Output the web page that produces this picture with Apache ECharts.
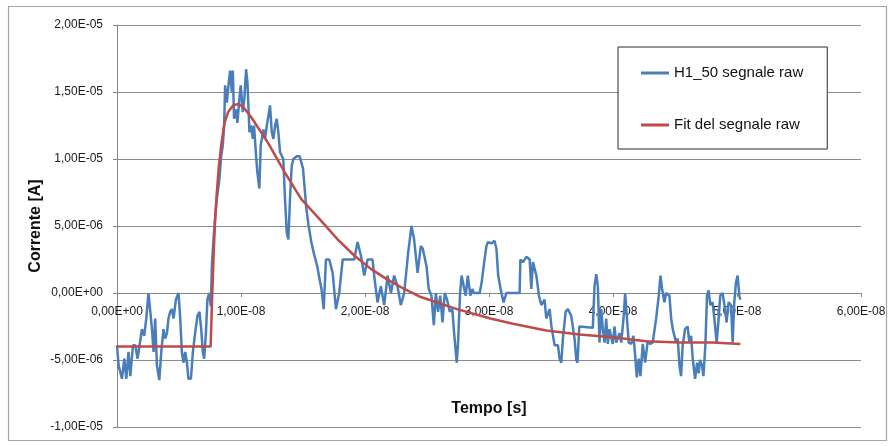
<!DOCTYPE html>
<html>
<head>
<meta charset="utf-8">
<script src="https://cdn.jsdelivr.net/npm/echarts@6/dist/echarts.min.js"></script>
<style>
  html, body { margin: 0; padding: 0; background: #ffffff; }
  #chart { width: 891px; height: 446px; }
</style>
</head>
<body>
<div id="chart"></div>
<script>
// Raw signal H1_50: time in ns, current in µA
const timeNs = [
  0.00,0.13,0.40,0.59,0.75,0.93,1.07,1.29,1.47,1.66,
  1.82,2.01,2.20,2.36,2.54,2.68,2.82,2.95,3.08,3.22,
  3.41,3.57,3.75,3.89,4.03,4.15,4.29,4.43,4.56,4.75,
  4.96,5.10,5.23,5.36,5.50,5.64,5.76,5.96,6.12,6.30,
  6.49,6.65,6.79,6.92,7.03,7.17,7.29,7.43,7.57,7.65,
  7.78,7.91,8.05,8.26,8.40,8.53,8.64,8.72,8.86,8.99,
  9.12,9.26,9.34,9.44,9.61,9.71,9.87,9.98,10.14,10.27,
  10.41,10.52,10.68,10.81,10.95,11.05,11.22,11.32,11.48,11.59,
  11.80,11.94,12.08,12.21,12.34,12.48,12.61,12.75,12.88,13.01,
  13.15,13.41,13.55,13.69,13.82,13.95,14.09,14.22,14.49,14.73,
  15.00,15.27,15.44,15.67,15.89,16.15,16.34,16.49,16.67,16.85,
  17.12,17.39,17.66,17.92,18.20,19.13,19.40,19.67,19.94,20.21,
  20.61,20.74,21.01,21.28,21.55,21.82,22.09,22.35,22.62,22.89,
  23.16,23.48,23.75,23.96,24.24,24.50,24.66,24.96,25.14,25.36,
  25.55,25.71,25.89,26.07,26.25,26.43,26.62,26.84,27.04,27.18,
  27.32,27.40,27.50,27.67,27.79,27.96,28.12,28.29,28.50,28.66,
  28.77,29.25,29.41,29.57,29.79,29.92,30.06,30.22,30.44,30.60,
  30.74,31.00,31.18,31.40,32.47,32.53,32.74,33.01,33.28,33.41,
  33.54,33.82,34.03,34.22,34.48,34.62,34.89,35.02,35.29,35.56,
  35.69,35.83,35.96,36.18,36.36,36.63,36.90,37.04,37.14,37.28,
  38.37,38.51,38.65,38.78,38.91,39.05,39.18,39.32,39.45,39.58,
  39.72,39.98,40.12,40.26,40.52,40.66,40.85,40.98,41.11,41.27,
  41.47,41.65,41.81,41.92,42.08,42.21,42.40,42.59,42.80,42.99,
  43.20,43.48,43.69,43.83,43.96,44.15,44.28,44.55,44.69,44.82,
  45.09,45.22,45.36,45.49,45.62,45.81,46.02,46.16,46.30,46.43,
  46.62,46.78,46.91,47.02,47.18,47.29,47.45,47.58,47.71,47.85,
  48.03,48.17,48.36,48.52,48.65,48.84,49.03,49.16,49.32,49.52,
  49.65,49.78,49.92,50.05,50.19,50.27
];
const currentUA = [
  -3.9,-5.4,-6.4,-4.9,-6.4,-4.4,-6.2,-3.9,-3.9,-4.9,
  -3.9,-2.7,-3.2,-1.9,0.0,0.0,-2.7,-4.4,-1.9,-5.4,
  -6.5,-4.4,-2.7,-3.4,-3.0,-1.9,-1.4,-1.2,-1.9,-0.5,
  0.0,-1.9,-4.4,-5.2,-4.4,-5.2,-6.4,-6.4,-4.4,-3.0,
  -1.7,-1.4,-2.7,-4.4,-4.9,-3.0,-0.5,0.0,-1.0,2.0,
  4.0,5.5,7.0,8.5,10.2,11.0,12.5,15.5,14.2,15.5,
  16.6,15.0,16.6,13.0,13.7,12.7,14.5,15.5,13.5,14.5,
  16.7,15.7,12.0,12.5,11.5,12.5,10.2,9.0,7.8,11.0,
  12.2,11.5,12.5,13.2,14.0,12.0,11.5,12.5,13.0,12.0,
  10.5,10.0,7.0,4.5,4.0,7.0,9.5,10.0,10.2,10.2,
  9.3,6.3,5.1,3.8,2.9,2.0,1.0,0.3,-1.2,2.5,
  2.5,1.5,-1.2,0.0,2.5,2.5,3.8,2.8,1.3,2.5,
  2.5,1.3,-0.7,0.5,-0.9,1.3,0.0,1.3,0.5,-0.9,
  0.0,3.0,5.0,4.0,1.5,3.5,3.3,2.0,0.3,-0.2,
  -2.4,0.0,-1.4,-0.2,-2.2,0.0,-0.5,-1.4,-1.2,-2.9,
  -4.4,-5.2,-3.8,0.0,1.3,0.5,-0.2,1.3,-0.2,0.3,
  0.0,0.0,0.8,2.0,3.5,3.8,3.9,3.7,3.9,3.3,
  1.3,0.0,-0.7,0.0,0.0,2.5,2.3,2.7,2.5,0.3,
  2.3,1.3,-0.2,-0.9,-0.5,-1.9,-1.2,-2.4,-3.9,-3.9,
  -4.9,-5.2,-3.4,-1.4,-1.2,-1.7,-3.4,-5.0,-5.2,-2.5,
  -2.6,0.5,1.4,0.5,-3.7,-1.2,-2.7,-3.7,-1.9,-3.8,
  -2.7,-3.8,-2.5,-3.7,-3.0,-3.7,-1.9,0.0,-1.7,-3.7,
  -3.8,-3.2,-4.9,-6.3,-4.9,-6.2,-3.8,-5.2,-3.6,-3.8,
  -3.7,-1.9,-0.2,1.3,0.3,-0.7,0.0,-0.2,-1.9,-2.7,
  -3.7,-3.4,-5.4,-6.2,-3.9,-2.7,-2.5,-3.7,-3.2,-4.9,
  -6.4,-5.2,-6.0,-5.0,-5.4,-6.2,-3.9,-0.2,0.2,-0.9,
  -0.7,-1.9,-3.7,-1.9,-0.2,0.0,-1.2,-2.2,-0.7,-0.9,
  -3.7,-0.7,0.8,1.3,-0.2,-0.5
];

// Fitted curve: time in ns, current in µA
const fitTimeNs = [
  0, 7.55, 7.65, 7.78, 7.91, 8.05, 8.2, 8.4, 8.67, 8.96,
  9.36, 9.77, 10.17, 10.84, 12.18, 13.53, 14.86, 16.45, 17.79, 19.13,
  20.47, 21.82, 23.16, 24.5, 27.42, 30.11, 31.93, 34.62, 37.29, 39.98,
  42.67, 45.36, 48.04, 50.27
];
const fitUA = [
  -4.0, -4.0, -1.0, 2.5, 5.5, 7.5, 9.3, 11.0, 12.7, 13.5,
  14.0, 14.1, 13.9, 13.1, 11.2, 9.0, 7.0, 5.4, 4.0, 2.8,
  1.8, 1.0, 0.3, -0.3, -1.2, -1.9, -2.3, -2.8, -3.1, -3.3,
  -3.6, -3.7, -3.7, -3.8
];

const seriesNames = ['H1_50 segnale raw', 'Fit del segnale raw'];
const xTitle = 'Tempo [s]';
const yTitle = 'Corrente [A]';

// Axis ranges in SI units
const xMin = 0, xMax = 6e-8, xStep = 1e-8;
const yMin = -1e-5, yMax = 2e-5, yStep = 5e-6;

// Plot box
const W = 891, H = 446;
const gridLeft = 117, gridRight = 30, gridTop = 25, gridBottom = 19;
const plotH = H - gridTop - gridBottom;
// The time axis sits on the zero-current line
const zeroLift = plotH * (0 - yMin) / (yMax - yMin);

function toPairs(ts, vs) {
  const n = Math.min(ts.length, vs.length);
  const out = [];
  for (let i = 0; i < n; i++) out.push([ts[i] * 1e-9, vs[i] * 1e-6]);
  return out;
}

// Spreadsheet-style scientific notation: 1,00E-08
function sci(v) {
  if (Math.abs(v) < 1e-20) return '0,00E+00';
  const s = v.toExponential(2);
  const parts = s.split('e');
  const mant = parts[0].replace('.', ',');
  let exp = parseInt(parts[1], 10);
  const sign = exp < 0 ? '-' : '+';
  exp = Math.abs(exp);
  return mant + 'E' + sign + (exp < 10 ? '0' + exp : String(exp));
}

const FONT = 'Liberation Sans';
const chart = echarts.init(document.getElementById('chart'), null, { renderer: 'canvas' });

chart.setOption({
  animation: false,
  backgroundColor: '#ffffff',
  grid: {
    left: gridLeft, right: gridRight, top: gridTop, bottom: gridBottom,
    containLabel: false, outerBoundsMode: 'none'
  },
  graphic: [{
    type: 'rect',
    silent: true,
    shape: { x: 8.5, y: 6.5, width: 878, height: 434 },
    style: { fill: 'none', stroke: '#a6a6a6', lineWidth: 1.2 },
    z: -10
  }],
  legend: {
    orient: 'vertical',
    left: 618,
    top: 47,
    padding: [17, 24, 15, 23],
    itemGap: 34,
    itemWidth: 28,
    itemHeight: 3,
    icon: 'rect',
    backgroundColor: '#ffffff',
    borderColor: '#2b2b2b',
    borderWidth: 1,
    textStyle: { fontFamily: FONT, fontSize: 15, color: '#111111', lineHeight: 18 },
    data: seriesNames
  },
  xAxis: {
    type: 'value',
    min: xMin, max: xMax, interval: xStep,
    position: 'bottom',
    offset: -zeroLift,
    name: xTitle,
    nameLocation: 'middle',
    nameGap: 108,
    nameMoveOverlap: false,
    nameTextStyle: { fontFamily: FONT, fontSize: 16, fontWeight: 'bold', color: '#111111' },
    axisLine: { onZero: false, lineStyle: { color: '#868686', width: 1 } },
    axisTick: { show: true, inside: false, length: 4, lineStyle: { color: '#868686' } },
    axisLabel: { formatter: sci, fontFamily: FONT, fontSize: 12, color: '#1a1a1a', margin: 13 },
    splitLine: { show: false }
  },
  yAxis: {
    type: 'value',
    min: yMin, max: yMax, interval: yStep,
    name: yTitle,
    nameLocation: 'middle',
    nameGap: 73,
    nameMoveOverlap: false,
    nameTextStyle: { fontFamily: FONT, fontSize: 16, fontWeight: 'bold', color: '#111111' },
    axisLine: { show: true, lineStyle: { color: '#868686', width: 1 } },
    axisTick: { show: true, inside: false, length: 4, lineStyle: { color: '#868686' } },
    axisLabel: { formatter: sci, fontFamily: FONT, fontSize: 12, color: '#1a1a1a', margin: 14 },
    splitLine: { show: true, lineStyle: { color: '#8c8c8c', width: 1 } }
  },
  series: [
    {
      name: seriesNames[0],
      type: 'line',
      data: toPairs(timeNs, currentUA),
      symbol: 'none',
      lineStyle: { color: '#4a7ebb', width: 2.5 },
      itemStyle: { color: '#4a7ebb' },
      z: 5
    },
    {
      name: seriesNames[1],
      type: 'line',
      data: toPairs(fitTimeNs, fitUA),
      symbol: 'none',
      lineStyle: { color: '#be4b48', width: 2.5 },
      itemStyle: { color: '#be4b48' },
      z: 6
    }
  ]
});
</script>
</body>
</html>
